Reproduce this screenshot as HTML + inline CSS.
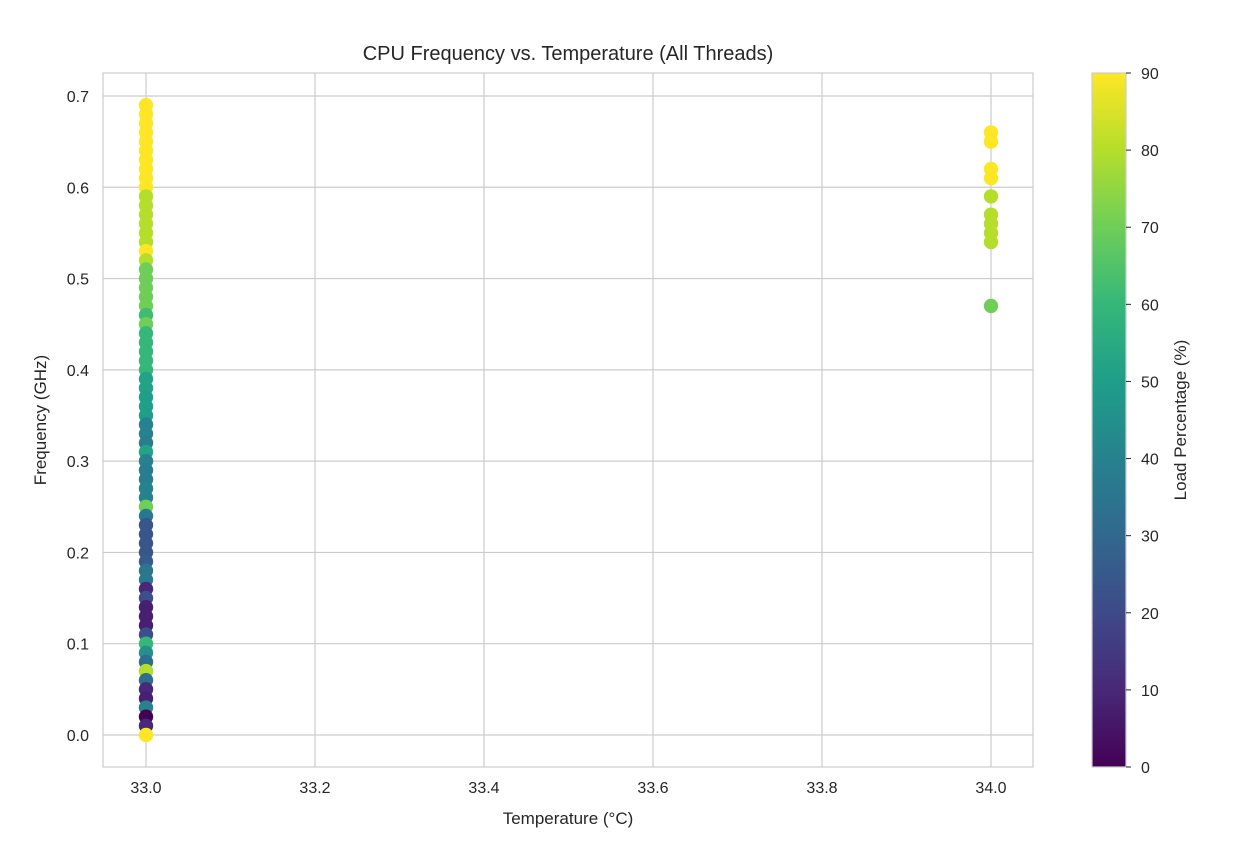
<!DOCTYPE html>
<html><head><meta charset="utf-8"><style>
body{margin:0;background:#fff;font-family:"Liberation Sans",Arial,sans-serif}
svg text{font-family:"Liberation Sans",Arial,sans-serif;fill:#262626}
</style></head><body>
<svg id="chart" width="1238" height="857" xmlns="http://www.w3.org/2000/svg">
<defs><linearGradient id="vir" x1="0" y1="1" x2="0" y2="0"></linearGradient></defs>
<g id="grid"></g><g id="pts"></g><g id="axes"></g><g id="cbar"></g>
</svg>
<script>
const temps33 = [33.0];
const freq33 = [0.69,0.68,0.67,0.66,0.65,0.64,0.63,0.62,0.61,0.60,0.59,0.58,0.57,0.56,0.55,0.54,0.53,0.52,0.51,0.50,0.49,0.48,0.47,0.46,0.45,0.44,0.43,0.42,0.41,0.40,0.39,0.38,0.37,0.36,0.35,0.34,0.33,0.32,0.31,0.30,0.29,0.28,0.27,0.26,0.25,0.24,0.23,0.22,0.21,0.20,0.19,0.18,0.17,0.16,0.15,0.14,0.13,0.12,0.11,0.10,0.09,0.08,0.07,0.06,0.05,0.04,0.03,0.02,0.01,0.00];
const load33 = [90,90,90,90,90,90,90,90,90,90,80,80,80,80,80,80,90,80,70,70,70,70,70,62,70,60,60,60,60,60,52,52,50,50,50,40,40,38,52,40,38,38,40,40,70,36,24,24,24,24,26,35,36,10,22,8,8,8,22,60,45,32,80,32,10,8,40,0,10,90];
const freq34 = [0.66,0.65,0.62,0.61,0.59,0.57,0.56,0.55,0.54,0.47];
const load34 = [90,90,90,90,80,80,80,80,80,70];
const xTicks = [33.0,33.2,33.4,33.6,33.8,34.0];
const yTicks = [0.0,0.1,0.2,0.3,0.4,0.5,0.6,0.7];
const cTicks = [0,10,20,30,40,50,60,70,80,90];

const NS="http://www.w3.org/2000/svg";
const L=103,R=1033,T=73,B=767;
const X=v=>146+(v-33.0)*845;
const Y=v=>735-v*912.9;
const stops=[[68,1,84],[72,40,120],[62,74,137],[49,104,142],[38,130,142],[31,158,137],[53,183,121],[110,206,88],[181,222,43],[253,231,37]];
function vir(t){t=Math.max(0,Math.min(1,t))*9;const i=Math.min(8,Math.floor(t)),f=t-i;const a=stops[i],b=stops[i+1];
return `rgb(${a.map((c,k)=>Math.round(c+(b[k]-c)*f)).join(',')})`;}
function el(tag,attrs,parent,txt){const e=document.createElementNS(NS,tag);for(const k in attrs)e.setAttribute(k,attrs[k]);if(txt!=null)e.textContent=txt;parent.appendChild(e);return e;}
const g=document.getElementById('grid'),p=document.getElementById('pts'),ax=document.getElementById('axes'),cb=document.getElementById('cbar');
const grad=document.getElementById('vir');
for(let i=0;i<=9;i++)el('stop',{offset:i/9,'stop-color':vir(i/9)},grad);
xTicks.forEach(v=>{const l=el('line',{x1:X(v),x2:X(v),y1:T,y2:B,stroke:'#cccccc','stroke-width':1.2},g);


const t=el('text',{x:X(v),y:B+26,'text-anchor':'middle','font-size':16},ax,v.toFixed(1));

});
yTicks.forEach(v=>{const l=el('line',{x1:L,x2:R,y1:Y(v),y2:Y(v),stroke:'#cccccc','stroke-width':1.2},g);


const t=el('text',{x:L-14,y:Y(v)+6,'text-anchor':'end','font-size':16},ax,v.toFixed(1));

});
const fr=el('rect',{x:L,y:T,width:R-L,height:B-T,fill:'none',stroke:'#cccccc','stroke-width':1.2},ax);


function dots(temp,fs,ls){fs.forEach((f,i)=>{const c=el('circle',{cx:X(temp),cy:Y(f),r:7.2,fill:vir(ls[i]/90)},p);

});}
dots(temps33[0],freq33,load33);
dots(34.0,freq34,load34);
let t=el('text',{x:568,y:60,'text-anchor':'middle','font-size':20},ax,'CPU Frequency vs. Temperature (All Threads)');


t=el('text',{x:568,y:824,'text-anchor':'middle','font-size':17},ax,'Temperature (°C)');


t=el('text',{x:46,y:420,'text-anchor':'middle','font-size':17,transform:'rotate(-90 46 420)'},ax,'Frequency (GHz)');


const cr=el('rect',{x:1092,y:73,width:34,height:694,fill:'url(#vir)',stroke:'#cccccc','stroke-width':1.2},cb);


cTicks.forEach(v=>{const y=767-v/90*694;el('line',{x1:1126,x2:1131,y1:y,y2:y,stroke:'#262626','stroke-width':1},cb);
const tt=el('text',{x:1141,y:y+6,'font-size':16},cb,String(v));

});
t=el('text',{x:1186,y:420,'text-anchor':'middle','font-size':17,transform:'rotate(-90 1186 420)'},cb,'Load Percentage (%)');


</script>
</body></html>
